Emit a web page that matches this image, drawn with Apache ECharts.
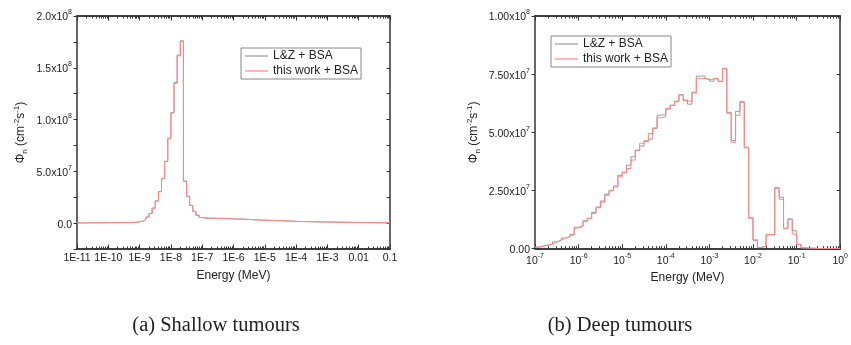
<!DOCTYPE html>
<html>
<head>
<meta charset="utf-8">
<script src="https://cdn.jsdelivr.net/npm/echarts@6/dist/echarts.min.js"></script>
<style>
  html, body { margin: 0; padding: 0; background: #fff; }
  #chart { width: 851px; height: 345px; }
</style>
</head>
<body>
<div id="chart"></div>
<script>
// neutron flux per energy bin, 10 bins per decade, values in 1e6 cm-2 s-1
const binsPerDecade = 10;
const shallowStartExp = -11; // first bin edge 1E-11 MeV
const deepStartExp = -7;     // first bin edge 1E-7 MeV

const shallowLZ = [
  0.2, 0.2, 0.2, 0.2, 0.3, 0.3, 0.3, 0.3, 0.3, 0.4,
  0.4, 0.4, 0.4, 0.5, 0.5, 0.5, 0.6, 0.7, 0.9, 1.2,
  1.8, 3.4, 5.8, 9.3, 14.4, 21.4, 30.3, 42.8, 59.7, 82.0,
  106.8, 135.8, 162.3, 176.1, 40.3, 25.8, 17.1, 11.3, 7.5, 5.4,
  4.9, 4.8, 4.8, 4.7, 4.6, 4.6, 4.4, 4.3, 4.3, 4.1,
  4.0, 3.9, 3.9, 3.7, 3.5, 3.3, 3.2, 3.0, 2.9, 2.8,
  2.7, 2.6, 2.6, 2.4, 2.3, 2.2, 2.0, 2.0, 1.8, 1.7,
  1.6, 1.6, 1.5, 1.4, 1.3, 1.3, 1.2, 1.2, 1.1, 1.1,
  1.0, 1.0, 0.9, 0.9, 0.8, 0.8, 0.7, 0.7, 0.6, 0.6,
  0.5, 0.5, 0.5, 0.4, 0.4, 0.4, 0.3, 0.3, 0.3, 0.3
];
const shallowThis = [
  0.2, 0.2, 0.2, 0.2, 0.3, 0.3, 0.3, 0.3, 0.3, 0.4,
  0.4, 0.4, 0.4, 0.5, 0.5, 0.5, 0.6, 0.7, 0.9, 1.2,
  1.8, 3.3, 5.9, 9.2, 14.6, 21.2, 30.6, 43.2, 59.4, 81.4,
  106.2, 135.0, 161.5, 175.5, 40.8, 25.9, 17.0, 11.4, 7.6, 5.4,
  4.9, 4.8, 4.7, 4.7, 4.6, 4.5, 4.4, 4.3, 4.2, 4.1,
  4.0, 3.9, 3.8, 3.7, 3.5, 3.4, 3.2, 3.0, 2.9, 2.8,
  2.7, 2.6, 2.5, 2.4, 2.3, 2.2, 2.1, 1.9, 1.8, 1.7,
  1.6, 1.5, 1.5, 1.4, 1.3, 1.3, 1.2, 1.2, 1.1, 1.1,
  1.0, 1.0, 0.9, 0.9, 0.8, 0.8, 0.7, 0.7, 0.6, 0.6,
  0.5, 0.5, 0.5, 0.4, 0.4, 0.4, 0.3, 0.3, 0.3, 0.3
];

const deepLZ = [
  0.7, 1.2, 1.5, 1.9, 2.9, 3.7, 4.5, 5.2, 6.2, 9.2,
  9.6, 12.0, 12.9, 15.6, 17.6, 20.5, 23.5, 24.9, 26.9, 31.5,
  32.6, 35.9, 39.5, 42.1, 44.1, 46.1, 47.1, 51.7, 57.4, 57.7,
  60.0, 61.7, 63.2, 66.2, 63.9, 62.1, 67.2, 74.2, 74.2, 73.0,
  72.0, 73.2, 72.0, 77.3, 58.6, 46.5, 59.0, 63.2, 43.4, 13.3,
  3.6, 0.6, 1.1, 6.0, 6.0, 26.2, 22.1, 8.8, 12.8, 7.7,
  1.9, 0.3, 0.2, 0.2, 0.1, 0.1, 0.1, 0.1, 0.1, 0.1
];
const deepThis = [
  0.6, 1.1, 1.6, 2.0, 2.8, 3.6, 4.6, 5.3, 6.0, 8.9,
  9.7, 11.6, 13.1, 15.2, 17.9, 20.0, 22.9, 25.1, 26.6, 30.9,
  32.9, 34.5, 38.1, 42.4, 45.3, 46.4, 49.5, 51.9, 56.3, 56.7,
  60.2, 61.5, 63.4, 66.0, 63.6, 63.2, 67.0, 73.2, 73.2, 72.7,
  72.9, 73.0, 71.8, 77.5, 58.2, 45.7, 57.3, 62.7, 43.6, 13.1,
  3.8, 0.5, 1.2, 6.1, 5.8, 26.0, 21.2, 8.6, 12.6, 6.3,
  1.8, 0.4, 0.3, 0.2, 0.1, 0.1, 0.1, 0.1, 0.1, 0.1
];

const shallowDecades = [-11, -10, -9, -8, -7, -6, -5, -4, -3, -2, -1];
const deepDecades = [-7, -6, -5, -4, -3, -2, -1, 0];
const shallowYTicks = [-25e6, 0, 25e6, 50e6, 75e6, 100e6, 125e6, 150e6, 175e6, 200e6];
const shallowYLabels = [0, 50e6, 100e6, 150e6, 200e6];
const deepYTicks = [0, 25e6, 50e6, 75e6, 100e6];
const deepYLabels = [0, 25e6, 50e6, 75e6, 100e6];

const names = ['L&Z + BSA', 'this work + BSA'];
const grayColor = '#9a9a9a';
const redColor = '#ff8585';
const axisColor = '#333';
const textColor = '#222';

function steps(startExp, values) {
  const pts = values.map((v, i) => [Math.pow(10, startExp + i / binsPerDecade), v * 1e6]);
  pts.push([Math.pow(10, startExp + values.length / binsPerDecade), values[values.length - 1] * 1e6]);
  return pts;
}

function majors(decades) {
  return decades.map(d => Math.pow(10, d));
}
function minors(decades) {
  const out = [];
  for (let i = 0; i < decades.length - 1; i++) {
    for (let k = 2; k <= 9; k++) out.push(k * Math.pow(10, decades[i]));
  }
  return out;
}

const rich = {
  b: { fontSize: 10.5, color: textColor, lineHeight: 14, verticalAlign: 'bottom', fontFamily: 'Liberation Sans' },
  s: { fontSize: 7, color: textColor, lineHeight: 7, verticalAlign: 'top', fontFamily: 'Liberation Sans' }
};

function expOf(v) { return Math.round(Math.log10(v)); }

function shallowXLabel(v) {
  const e = expOf(v);
  if (e === -2) return '0.01';
  if (e === -1) return '0.1';
  return '1E' + e;
}
function deepXLabel(v) {
  return '{b|10}{s|' + expOf(v) + '}';
}
function yLabel(digits) {
  return function (v) {
    if (Math.abs(v) < 1) return '{b|' + (0).toFixed(digits) + '}';
    const e = Math.floor(Math.log10(v) + 1e-9);
    const m = v / Math.pow(10, e);
    return '{b|' + m.toFixed(digits) + 'x10}{s|' + e + '}';
  };
}

function xAxes(gridIndex, minExp, maxExp, decades, fmt) {
  const base = {
    type: 'log', gridIndex, min: Math.pow(10, minExp), max: Math.pow(10, maxExp),
    splitLine: { show: false }, axisLine: { show: true, onZero: false, lineStyle: { color: axisColor, width: 1.5 } }
  };
  return [
    Object.assign({}, base, {
      position: 'bottom',
      name: 'Energy (MeV)', nameLocation: 'middle', nameGap: 21,
      nameTextStyle: { fontSize: 12, color: textColor, fontFamily: 'Liberation Sans' },
      axisTick: { show: true, inside: true, length: 4.5, customValues: majors(decades), lineStyle: { color: axisColor } },
      axisLabel: { show: true, margin: 4, customValues: majors(decades), formatter: fmt, rich,
        fontSize: 10.5, color: textColor, fontFamily: 'Liberation Sans' }
    }),
    Object.assign({}, base, {
      position: 'bottom',
      axisTick: { show: true, inside: true, length: 2.5, customValues: minors(decades), lineStyle: { color: axisColor } },
      axisLabel: { show: false }
    }),
    Object.assign({}, base, {
      position: 'top',
      axisTick: { show: true, inside: true, length: 4.5, customValues: majors(decades), lineStyle: { color: axisColor } },
      axisLabel: { show: false }
    }),
    Object.assign({}, base, {
      position: 'top',
      axisTick: { show: true, inside: true, length: 2.5, customValues: minors(decades), lineStyle: { color: axisColor } },
      axisLabel: { show: false }
    })
  ];
}

const nameRich = {
  b: { fontSize: 12, color: textColor, lineHeight: 16, verticalAlign: 'middle', fontFamily: 'Liberation Sans' },
  sub: { fontSize: 8, color: textColor, lineHeight: 8, verticalAlign: 'bottom', fontFamily: 'Liberation Sans' },
  sup: { fontSize: 8, color: textColor, lineHeight: 8, verticalAlign: 'top', fontFamily: 'Liberation Sans' }
};
const yName = '{b|Φ}{sub|n}{b| (cm}{sup|-2}{b|s}{sup|-1}{b|)}';

function yAxes(gridIndex, min, max, ticks, labels, fmt, gap) {
  const base = {
    type: 'value', gridIndex, min, max, interval: 25e6,
    splitLine: { show: false }, axisLine: { show: true, onZero: false, lineStyle: { color: axisColor, width: 1.5 } }
  };
  return [
    Object.assign({}, base, {
      position: 'left',
      name: yName, nameLocation: 'middle', nameGap: gap, nameRotate: 90,
      nameTextStyle: { rich: nameRich },
      axisTick: { show: true, inside: false, length: 3.5, customValues: ticks, lineStyle: { color: axisColor } },
      axisLabel: { show: true, margin: 5, formatter: fmt, rich, customValues: labels }
    }),
    Object.assign({}, base, {
      position: 'right',
      axisTick: { show: true, inside: true, length: 3.5, customValues: ticks, lineStyle: { color: axisColor } },
      axisLabel: { show: false }
    })
  ];
}

function histSeries(name, color, data, xi, yi, z) {
  return {
    name, type: 'line', step: 'end', symbol: 'none', showSymbol: false,
    xAxisIndex: xi, yAxisIndex: yi, data, z,
    lineStyle: { color, width: 1 }, itemStyle: { color },
    emphasis: { disabled: true }
  };
}

function legendAt(left, top) {
  return {
    data: names, orient: 'vertical', left, top,
    icon: 'path://M0,0H23V1.2H0Z', symbolKeepAspect: true,
    itemWidth: 23, itemHeight: 13, itemGap: 1,
    padding: [1, 3, 1, 4],
    borderColor: '#888', borderWidth: 1,
    textStyle: { fontSize: 12, color: textColor, fontFamily: 'Liberation Sans', lineHeight: 14 },
    selectedMode: false
  };
}

const chart = echarts.init(document.getElementById('chart'), null, { renderer: 'canvas' });
chart.setOption({
  animation: false,
  backgroundColor: '#fff',
  grid: [
    { left: 77, top: 16, width: 313, height: 233 },
    { left: 535, top: 16, width: 314, height: 232.7 }
  ],
  xAxis: [].concat(
    xAxes(0, -11, -1, shallowDecades, shallowXLabel),
    xAxes(1, -7, 0, deepDecades, deepXLabel)
  ),
  yAxis: [].concat(
    yAxes(0, -25e6, 200e6, shallowYTicks, shallowYLabels, yLabel(1), 48),
    yAxes(1, 0, 100e6, deepYTicks, deepYLabels, yLabel(2), 53)
  ),
  legend: [legendAt(241, 48), legendAt(551, 36)],
  series: [
    histSeries(names[0], grayColor, steps(shallowStartExp, shallowLZ), 0, 0, 2),
    histSeries(names[1], redColor, steps(shallowStartExp, shallowThis), 0, 0, 3),
    histSeries(names[0], grayColor, steps(deepStartExp, deepLZ), 4, 2, 2),
    histSeries(names[1], redColor, steps(deepStartExp, deepThis), 4, 2, 3)
  ],
  graphic: [
    { type: 'text', x: 216, y: 326, style: { text: '(a) Shallow tumours', fontSize: 20.5, fontFamily: 'Liberation Serif',
      fill: textColor, textAlign: 'center', textVerticalAlign: 'middle' } },
    { type: 'text', x: 620, y: 326, style: { text: '(b) Deep tumours', fontSize: 20.5, fontFamily: 'Liberation Serif',
      fill: textColor, textAlign: 'center', textVerticalAlign: 'middle' } }
  ]
});
</script>
</body>
</html>
